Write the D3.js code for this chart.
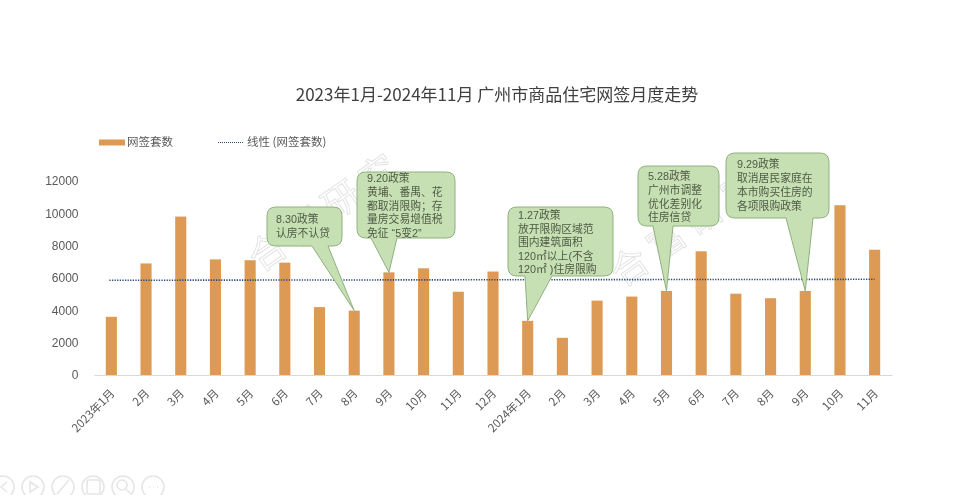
<!DOCTYPE html>
<html><head><meta charset="utf-8">
<style>
html,body{margin:0;padding:0;background:#fff;}
svg{display:block;filter:blur(0.45px);}
text{font-family:"Noto Sans CJK SC","Noto Sans",sans-serif;}
</style>
<script src="https://cdn.jsdelivr.net/npm/d3@7/dist/d3.min.js"></script>
</head><body><div id="chart"></div>
<script>
const titleText = "2023年1月-2024年11月 广州市商品住宅网签月度走势";
const seriesName = "网签套数";
const trendName = "线性 (网签套数)";
const watermarkText = "合富研究";
const categories = ["2023年1月","2月","3月","4月","5月","6月","7月","8月","9月","10月","11月","12月","2024年1月","2月 ","3月 ","4月 ","5月 ","6月 ","7月 ","8月 ","9月 ","10月 ","11月 "];
const values = [3600,6900,9800,7150,7100,6950,4200,3980,6350,6600,5150,6400,3350,2300,4600,4850,5200,7650,5030,4750,5200,10500,7750];
const trendValues = [5860,5920];
const yTicks = [0,2000,4000,6000,8000,10000,12000];
const calloutBars = [7,8,12,16,20];
const calloutLines = [
  ["8.30政策","认房不认贷"],
  ["9.20政策","黄埔、番禺、花","都取消限购；存","量房交易增值税","免征 “5变2”"],
  ["1.27政策","放开限购区域范","围内建筑面积","120㎡以上(不含","120㎡ )住房限购"],
  ["5.28政策","广州市调整","优化差别化","住房信贷"],
  ["9.29政策","取消居民家庭在","本市购买住房的","各项限购政策"]
];
// callout layout: box x0,y0,x1,y1, tail base left/right, text left, first baseline
const calloutBoxes = [
  {x0:267,y0:207,x1:342,y1:246,b0:312,b1:328,tx:276,ty:223,lh:14},
  {x0:357,y0:172,x1:455,y1:238,b0:371,b1:397,tx:367,ty:182,lh:13.8},
  {x0:508,y0:207,x1:613,y1:276,b0:525,b1:552,tx:518,ty:219,lh:13.6},
  {x0:638,y0:166,x1:719,y1:226,b0:653,b1:673,tx:648,ty:180,lh:13.8},
  {x0:726,y0:153,x1:829,y1:218,b0:786,b1:813,tx:737,ty:168,lh:14}
];

const W=960,H=495;
const svg=d3.select("#chart").append("svg").attr("width",W).attr("height",H);
const x=d3.scaleBand().domain(categories).range([94,892]).paddingInner(0.68).paddingOuter(0.34);
const y=d3.scaleLinear().domain([0,12000]).range([375,181]);

// watermark
const wm=svg.append("g").attr("font-size",37).attr("fill","none").attr("stroke","#e2e2e2").attr("stroke-width",0.9);
wm.append("text").attr("transform","translate(260,273) rotate(-35)").text(watermarkText).attr("letter-spacing",8);
wm.append("text").attr("transform","translate(622,288) rotate(-35)").text(watermarkText).attr("letter-spacing",8);

// title
svg.append("text").attr("x",497).attr("y",101).attr("text-anchor","middle").attr("font-size",17).attr("fill","#404040").text(titleText);

// legend
svg.append("rect").attr("x",99).attr("y",139.5).attr("width",26).attr("height",6).attr("fill","#dc9a54");
svg.append("text").attr("x",127).attr("y",146).attr("font-size",11.5).attr("fill","#595959").text(seriesName);
svg.append("line").attr("x1",218).attr("x2",244).attr("y1",142.5).attr("y2",142.5).attr("stroke","#2f4a7a").attr("stroke-width",1.1).attr("stroke-dasharray","1 1");
svg.append("text").attr("x",247).attr("y",146).attr("font-size",11.5).attr("fill","#595959").text(trendName);

// y axis
const yAxis=svg.append("g").attr("transform","translate(80,0)").call(d3.axisLeft(y).tickValues(yTicks).tickSize(0).tickFormat(d3.format("d")));
yAxis.select(".domain").remove();
yAxis.selectAll("text").attr("font-size",12).attr("fill","#595959").style("font-family",'"Liberation Sans",sans-serif').attr("dx",1.5);

// x axis
const xAxis=svg.append("g").attr("transform","translate(0,375)").call(d3.axisBottom(x).tickSize(0));
xAxis.select(".domain").attr("stroke","#d9d9d9");
xAxis.selectAll("text").attr("font-size",11.5).attr("fill","#595959")
  .attr("text-anchor","end").attr("dx",0).attr("dy",0)
  .attr("transform","translate(2,17) rotate(-45)");

// bars
svg.append("g").selectAll("rect").data(values).join("rect")
  .attr("x",(d,i)=>x(categories[i])).attr("width",x.bandwidth())
  .attr("y",d=>y(d)).attr("height",d=>y(0)-y(d)).attr("fill","#dc9a54");

// trend
const cx=c=>x(c)+x.bandwidth()/2;
svg.append("line")
  .attr("x1",cx(categories[0])-2).attr("x2",cx(categories[categories.length-1]))
  .attr("y1",y(trendValues[0])).attr("y2",y(trendValues[1]))
  .attr("stroke","#2f4a7a").attr("stroke-width",1.6).attr("stroke-dasharray","1.3 1.3");

// callouts
function calloutPath(b,tipX,tipY){
  const r=9;
  return `M${b.x0+r},${b.y0}H${b.x1-r}Q${b.x1},${b.y0} ${b.x1},${b.y0+r}V${b.y1-r}Q${b.x1},${b.y1} ${b.x1-r},${b.y1}`+
    `H${b.b1}L${tipX},${tipY}L${b.b0},${b.y1}H${b.x0+r}Q${b.x0},${b.y1} ${b.x0},${b.y1-r}V${b.y0+r}Q${b.x0},${b.y0} ${b.x0+r},${b.y0}Z`;
}
calloutBars.forEach((bi,k)=>{
  const b=calloutBoxes[k];
  const g=svg.append("g");
  g.append("path").attr("d",calloutPath(b,cx(categories[bi]),y(values[bi])))
    .attr("fill","#c6e0b4").attr("stroke","#8fb07f").attr("stroke-width",1);
  calloutLines[k].forEach((t,j)=>{
    g.append("text").attr("x",b.tx).attr("y",b.ty+j*b.lh).attr("font-size",10.8).attr("fill","#4f5a45")
      .style("font-family",'"Liberation Sans","Noto Sans CJK SC",sans-serif').text(t);
  });
});

// slide-show toolbar icons
const toolbar=svg.append("g").attr("fill","none").attr("stroke","#e6e6e6").attr("stroke-width",1.6);
d3.range(6).forEach(i=>{
  toolbar.append("circle").attr("cx",3+i*30).attr("cy",487).attr("r",11);
});
toolbar.append("path").attr("d","M7,482L1,487L7,492");
toolbar.append("path").attr("d","M30,482L38,487L30,492Z");
toolbar.append("path").attr("d","M57,494L69,480");
toolbar.append("rect").attr("x",87).attr("y",480).attr("width",13).attr("height",14).attr("rx",2);
toolbar.append("circle").attr("cx",122).attr("cy",485).attr("r",5);
toolbar.append("path").attr("d","M126,489L131,494");
toolbar.append("path").attr("d","M149,487h1M153,487h1M157,487h1");
</script></body></html>
